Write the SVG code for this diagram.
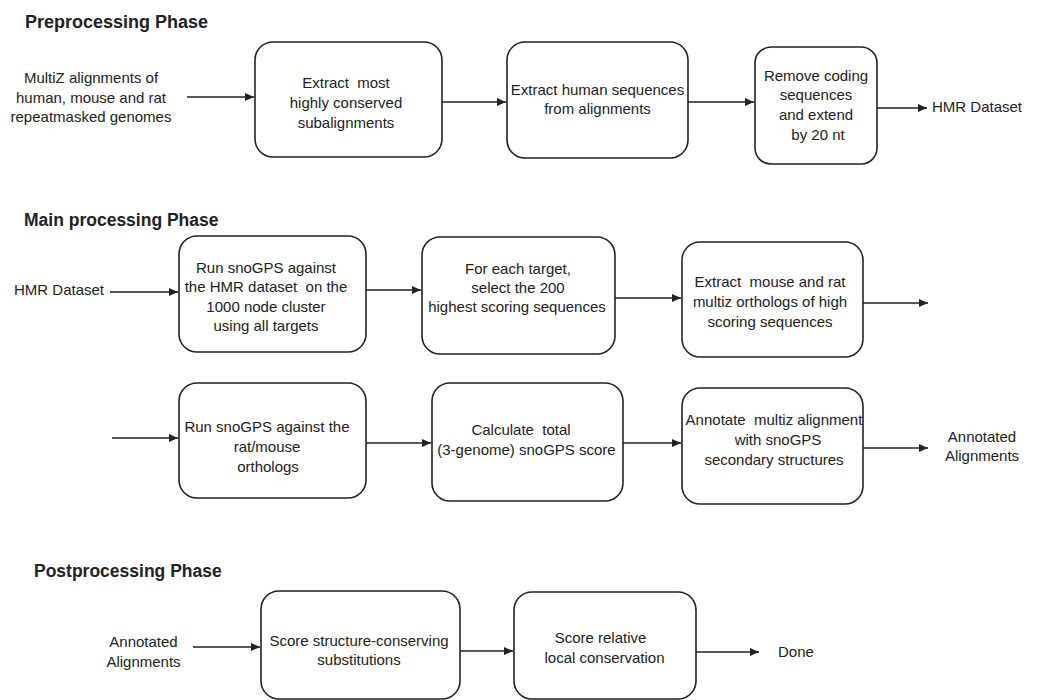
<svg xmlns="http://www.w3.org/2000/svg" width="1037" height="700" viewBox="0 0 1037 700">
<defs>
<marker id="ah" markerWidth="9" markerHeight="8" refX="9" refY="4" orient="auto" markerUnits="userSpaceOnUse">
<path d="M0,0 L9,4 L0,8 z" fill="#222"/>
</marker>
<style>
.box{fill:#fff;stroke:#222;stroke-width:1.6}
.t{font-family:"Liberation Sans",Arial,sans-serif;font-size:15px;fill:#222;text-anchor:middle}
.l{font-family:"Liberation Sans",Arial,sans-serif;font-size:15px;fill:#222}
.h{font-family:"Liberation Sans",Arial,sans-serif;font-weight:bold;fill:#222}
.c{stroke:#222;stroke-width:1.4;fill:none;marker-end:url(#ah)}
</style>
</defs>
<rect width="1037" height="700" fill="#fff"/>

<g id="titles">
<text class="h" x="25" y="28" font-size="18">Preprocessing Phase</text>
<text class="h" x="24" y="226" font-size="17.5">Main processing Phase</text>
<text class="h" x="34" y="577" font-size="17.5">Postprocessing Phase</text>
</g>

<g id="input-multiz">
<text class="t" x="91" y="83" font-size="15.5">MultiZ alignments of</text>
<text class="t" x="91" y="103" font-size="15.5">human, mouse and rat</text>
<text class="t" x="91" y="122" font-size="15.5">repeatmasked genomes</text>
</g>

<g id="pre1">
<rect class="box" x="255" y="42" width="187" height="115" rx="18"/>
<text class="t" x="346" y="88" xml:space="preserve">Extract  most</text>
<text class="t" x="346" y="108">highly conserved</text>
<text class="t" x="346" y="128">subalignments</text>
</g>

<g id="pre2">
<rect class="box" x="507" y="42" width="181" height="116" rx="18"/>
<text class="t" x="597.5" y="95">Extract human sequences</text>
<text class="t" x="597.5" y="114">from alignments</text>
</g>

<g id="pre3">
<rect class="box" x="755" y="47" width="122" height="117" rx="16"/>
<text class="t" x="816" y="81">Remove coding</text>
<text class="t" x="816" y="100">sequences</text>
<text class="t" x="816" y="120">and extend</text>
<text class="t" x="818" y="140">by 20 nt</text>
</g>

<g id="out-hmr">
<text class="l" x="932" y="112">HMR Dataset</text>
</g>

<g id="in-hmr">
<text class="l" x="14" y="295">HMR Dataset</text>
</g>

<g id="main1">
<rect class="box" x="179" y="236" width="187" height="116" rx="18"/>
<text class="t" x="266" y="273" font-size="16">Run snoGPS against</text>
<text class="t" x="266" y="292" font-size="16" xml:space="preserve">the HMR dataset  on the</text>
<text class="t" x="266" y="311.5" font-size="16">1000 node cluster</text>
<text class="t" x="266" y="331" font-size="16">using all targets</text>
</g>

<g id="main2">
<rect class="box" x="422" y="237" width="193" height="117" rx="18"/>
<text class="t" x="518" y="274" font-size="16">For each target,</text>
<text class="t" x="518" y="293" font-size="16">select the 200</text>
<text class="t" x="517" y="312" font-size="16">highest scoring sequences</text>
</g>

<g id="main3">
<rect class="box" x="682" y="242" width="181" height="115" rx="18"/>
<text class="t" x="770" y="287" xml:space="preserve">Extract  mouse and rat</text>
<text class="t" x="770" y="307">multiz orthologs of high</text>
<text class="t" x="770" y="327">scoring sequences</text>
</g>

<g id="main4">
<rect class="box" x="179" y="383" width="187" height="115" rx="18"/>
<text class="t" x="267" y="432" font-size="15.3">Run snoGPS against the</text>
<text class="t" x="267" y="452" font-size="15.3">rat/mouse</text>
<text class="t" x="268" y="472" font-size="15.3">orthologs</text>
</g>

<g id="main5">
<rect class="box" x="432" y="383" width="191" height="118" rx="18"/>
<text class="t" x="521" y="435" xml:space="preserve">Calculate  total</text>
<text class="t" x="526.5" y="455">(3-genome) snoGPS score</text>
</g>

<g id="main6">
<rect class="box" x="682" y="388" width="181" height="116" rx="18"/>
<text class="t" x="774" y="425" xml:space="preserve">Annotate  multiz alignment</text>
<text class="t" x="778" y="445">with snoGPS</text>
<text class="t" x="774" y="465">secondary structures</text>
</g>

<g id="out-annot">
<text class="t" x="982" y="442">Annotated</text>
<text class="t" x="982" y="461">Alignments</text>
</g>

<g id="in-annot">
<text class="t" x="143.5" y="647">Annotated</text>
<text class="t" x="143.5" y="667">Alignments</text>
</g>

<g id="post1">
<rect class="box" x="261" y="591" width="199" height="108" rx="18"/>
<text class="t" x="359" y="646" font-size="15.5">Score structure-conserving</text>
<text class="t" x="359" y="665" font-size="15.5">substitutions</text>
</g>

<g id="post2">
<rect class="box" x="514" y="592" width="182" height="107" rx="18"/>
<text class="t" x="600.5" y="643">Score relative</text>
<text class="t" x="604.5" y="663">local conservation</text>
</g>

<g id="done">
<text class="l" x="778" y="657">Done</text>
</g>

<g id="connectors">
<line class="c" x1="187" y1="97" x2="254" y2="97"/>
<line class="c" x1="442" y1="102" x2="506" y2="102"/>
<line class="c" x1="688" y1="102" x2="754" y2="102"/>
<line class="c" x1="877" y1="108" x2="927" y2="108" stroke-width="2"/>
<line class="c" x1="110" y1="292" x2="178" y2="292"/>
<line class="c" x1="366" y1="290" x2="421" y2="290"/>
<line class="c" x1="615" y1="298" x2="681" y2="298"/>
<line class="c" x1="863" y1="303" x2="928" y2="303"/>
<line class="c" x1="112" y1="438" x2="178" y2="438"/>
<line class="c" x1="366" y1="443" x2="431" y2="443"/>
<line class="c" x1="623" y1="443" x2="681" y2="443"/>
<line class="c" x1="863" y1="448" x2="928" y2="448"/>
<line class="c" x1="193" y1="647" x2="260" y2="647"/>
<line class="c" x1="460" y1="651" x2="513" y2="651"/>
<line class="c" x1="696" y1="652" x2="759" y2="652"/>
</g>
</svg>
